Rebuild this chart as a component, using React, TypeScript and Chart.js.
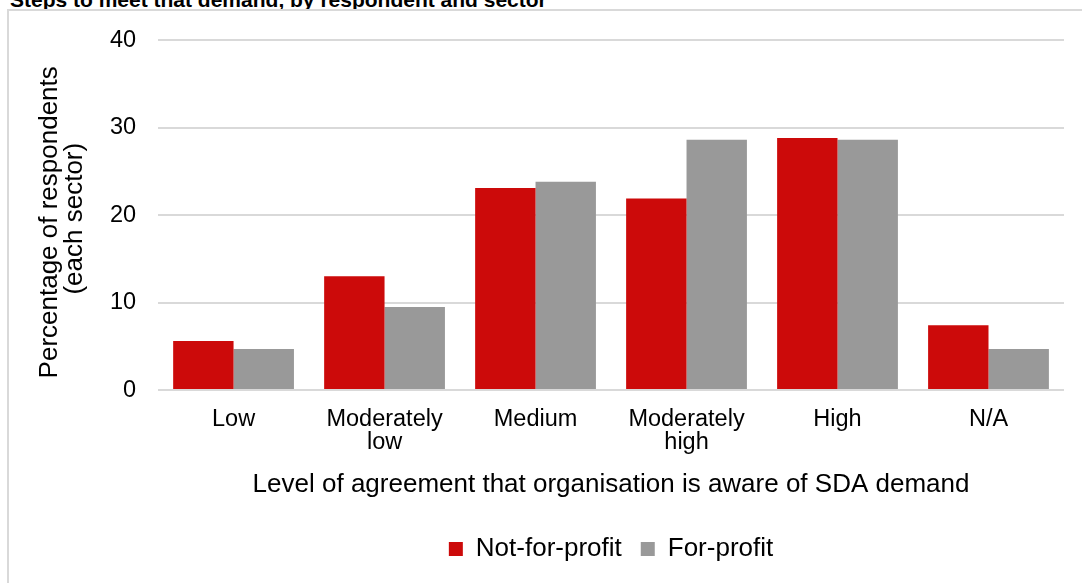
import React, { useEffect, useRef } from "react";
import { Chart, registerables } from "chart.js";

Chart.register(...registerables);

const categories: (string | string[])[] = [
  "Low",
  ["Moderately", "low"],
  "Medium",
  ["Moderately", "high"],
  "High",
  "N/A",
];
const notForProfit = [5.6, 13.0, 23.1, 21.9, 28.8, 7.4];
const forProfit = [4.7, 9.5, 23.8, 28.6, 28.6, 4.7];
const yTicks = [0, 10, 20, 30, 40];
const seriesNames = ["Not-for-profit", "For-profit"];
const yTitle = ["Percentage of respondents  ", "(each sector) "];
const xTitle = "Level of agreement that organisation is aware of SDA demand";
const chartTitle = "Steps to meet that demand, by respondent and sector";

const FONT = "'Liberation Sans', Arial, sans-serif";

export default function App() {
  const ref = useRef<HTMLCanvasElement | null>(null);

  useEffect(() => {
    if (!ref.current) return;
    const chart = new Chart(ref.current, {
      type: "bar",
      data: {
        labels: categories,
        datasets: [
          {
            label: seriesNames[0],
            data: notForProfit,
            backgroundColor: "#CC0A0A",
            categoryPercentage: 0.8,
            barPercentage: 1.0,
          },
          {
            label: seriesNames[1],
            data: forProfit,
            backgroundColor: "#999999",
            categoryPercentage: 0.8,
            barPercentage: 1.0,
          },
        ],
      },
      options: {
        animation: false,
        responsive: false,
        maintainAspectRatio: false,
        layout: { padding: { left: 28, top: 1, right: 18, bottom: 11 } },
        plugins: {
          legend: {
            position: "bottom",
            fullSize: false,
            labels: {
              boxWidth: 14,
              boxHeight: 14,
              padding: 19,
              color: "#000",
              font: { family: FONT, size: 26 },
            },
          },
          tooltip: { enabled: false },
        },
        scales: {
          x: {
            grid: { display: false, drawTicks: false },
            border: { display: false },
            ticks: {
              color: "#000",
              padding: 17,
              maxRotation: 0,
              autoSkip: false,
              font: { family: FONT, size: 23.5, lineHeight: 1.02 },
            },
            title: {
              display: true,
              text: xTitle,
              color: "#000",
              font: { family: FONT, size: 26, lineHeight: 1 },
              padding: { top: 0, bottom: 19 },
            },
          },
          y: {
            min: 0,
            max: 40,
            afterBuildTicks: (axis: any) => {
              axis.ticks = yTicks.map((v) => ({ value: v }));
            },
            grid: { color: "#d9d9d9", lineWidth: 2, drawTicks: false },
            border: { display: false },
            ticks: {
              color: "#000",
              padding: 22,
              font: { family: FONT, size: 23.5, lineHeight: 1.2 },
            },
            title: {
              display: true,
              text: yTitle,
              color: "#000",
              font: { family: FONT, size: 26, lineHeight: 0.96 },
              padding: { top: 0, bottom: 1 },
            },
          },
        },
      },
    });
    return () => chart.destroy();
  }, []);

  return (
    <div
      style={{
        position: "fixed",
        left: 0,
        top: 0,
        width: 1082,
        height: 583,
        overflow: "hidden",
        background: "#fff",
      }}
    >
      <div
        style={{
          position: "absolute",
          left: 10,
          top: -10,
          font: `bold 21px ${FONT}`,
          lineHeight: "20px",
          color: "#000",
          whiteSpace: "nowrap",
        }}
      >
        {chartTitle}
      </div>
      <div
        style={{
          position: "absolute",
          left: 7,
          top: 9,
          width: 1100,
          height: 600,
          borderLeft: "2px solid #d9d9d9",
          borderTop: "2px solid #d9d9d9",
        }}
      />
      <canvas
        ref={ref}
        width={1073}
        height={579}
        style={{ position: "absolute", left: 9, top: 4, width: 1073, height: 579 }}
      />
    </div>
  );
}
